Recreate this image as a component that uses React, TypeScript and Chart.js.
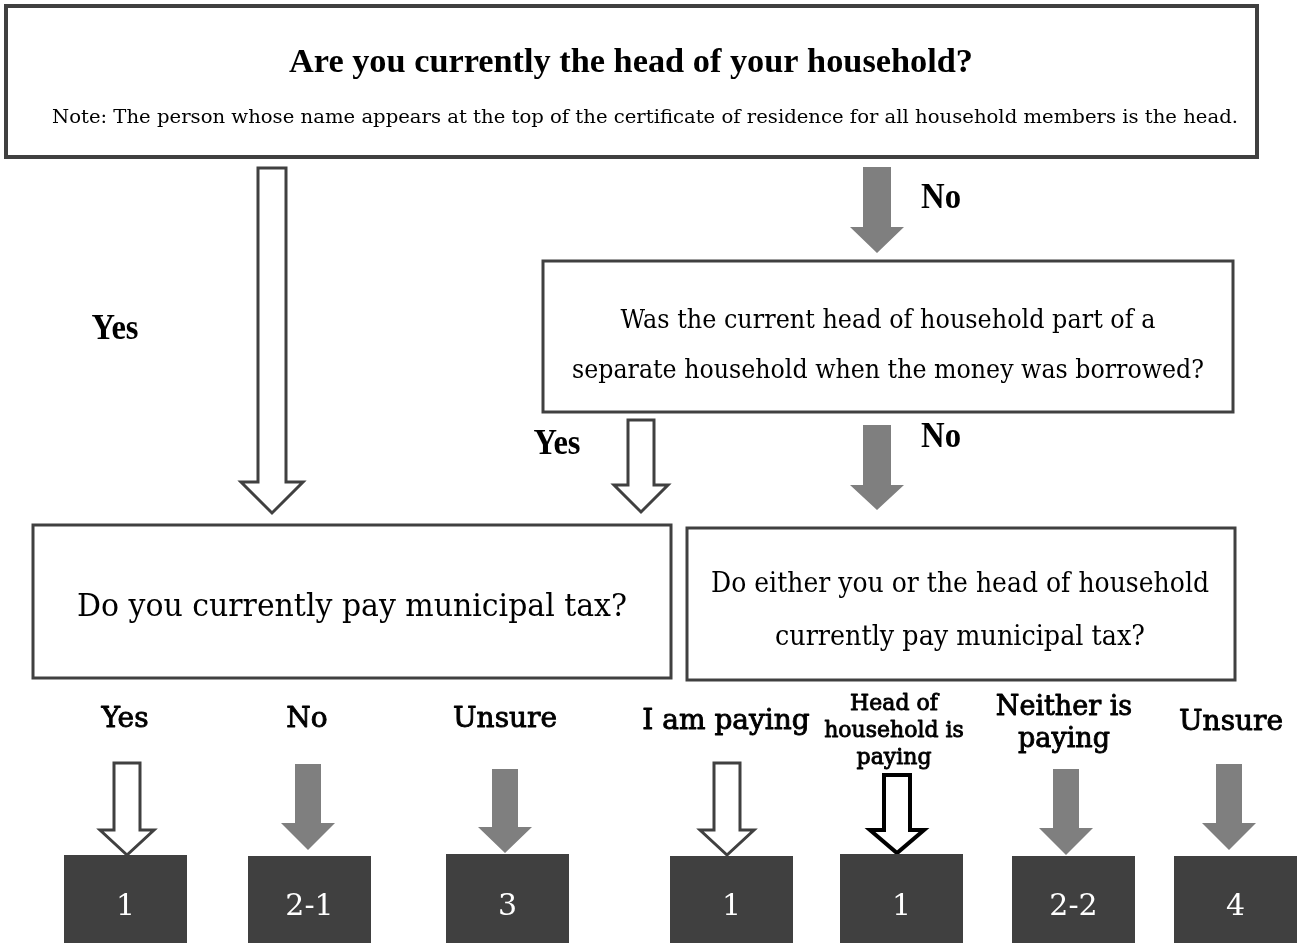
import { useEffect, useRef } from "react";
import { Chart, registerables } from "chart.js";

Chart.register(...registerables);

// ---------- content ----------
const TITLE = "Are you currently the head of your household?";
const NOTE =
  "Note: The person whose name appears at the top of the certificate of residence for all household members is the head.";
const QUESTIONS = [
  ["Was the current head of household part of a", "separate household when the money was borrowed?"],
  ["Do you currently pay municipal tax?"],
  ["Do either you or the head of household", "currently pay municipal tax?"],
];
const BRANCH_LABELS = ["Yes", "No", "Yes", "No"];
const ANSWERS = [["Yes"], ["No"], ["Unsure"], ["I am paying"], ["Head of", "household is", "paying"], ["Neither is", "paying"], ["Unsure"]];
const RESULTS = ["1", "2-1", "3", "1", "1", "2-2", "4"];
const ANSWER_ARROW_KIND = ["hollow", "filled", "filled", "hollow", "hollowDark", "filled", "filled"];

// ---------- layout (diagram units, 0..1301 x 0..943) ----------
const TOP_BOX = [6, 6, 1257, 157];
const Q_BOXES = [
  [543, 261, 1233, 412],
  [33, 525, 671, 678],
  [687, 528, 1235, 680],
];
const Q_TEXT_CX = [888, 352, 960];
const Q_TEXT_Y = [[321, 371], [608], [585, 638]];
const Q_TEXT_W = [[535, 632], [550], [498, 370]];
const Q_FONT = [26, 31, 27];

const BRANCH_X = [115, 941, 557, 941];
const BRANCH_Y = [330, 199, 445, 438];
const BRANCH_W = [47, 40, 47, 40];
const BRANCH_ARROWS = [
  { cx: 272, top: 168, head: 482, tip: 513, sw: 14, hw: 31, kind: "hollow" },
  { cx: 877, top: 167, head: 227, tip: 253, sw: 14, hw: 27, kind: "filled" },
  { cx: 641, top: 420, head: 485, tip: 512, sw: 13, hw: 27, kind: "hollow" },
  { cx: 877, top: 425, head: 485, tip: 510, sw: 14, hw: 27, kind: "filled" },
];

const ANSWER_X = [125, 307, 505, 726, 894, 1064, 1231];
const ANSWER_Y = [[720], [720], [720], [722], [704, 731, 758], [708, 740], [723]];
const ANSWER_FONT = [28, 28, 28, 28, 22, 27, 28];

const ANS_ARROW_X = [127, 308, 505, 727, 897, 1066, 1229];
const ANS_ARROW_TOP = [763, 764, 769, 763, 775, 769, 764];
const ANS_ARROW_HEAD = [830, 823, 827, 830, 830, 828, 823];
const ANS_ARROW_TIP = [855, 850, 853, 855, 853, 855, 850];

const RES_X0 = [64, 248, 446, 670, 840, 1012, 1174];
const RES_X1 = [187, 371, 569, 793, 963, 1135, 1297];
const RES_Y0 = [855, 856, 854, 856, 854, 856, 856];
const RES_Y1 = 943;

const SERIF = "'DejaVu Serif', serif";
const SERIF_B = "'Liberation Serif', serif";
const DARK = "#404040";
const GRAY = "#7f7f7f";

const flowPlugin = {
  id: "flowchart",
  afterDraw(chart: any) {
    const ctx: CanvasRenderingContext2D = chart.ctx;
    const xs = chart.scales.x;
    const ys = chart.scales.y;
    const px = (v: number) => xs.getPixelForValue(v);
    const py = (v: number) => ys.getPixelForValue(v);

    const text = (
      t: string,
      cx: number,
      cy: number,
      font: string,
      color: string,
      targetW?: number,
      embolden = 0
    ) => {
      ctx.save();
      ctx.font = font;
      ctx.fillStyle = color;
      ctx.textAlign = "center";
      ctx.textBaseline = "middle";
      const w = ctx.measureText(t).width;
      const sx = targetW ? targetW / w : 1;
      ctx.translate(px(cx), py(cy));
      ctx.scale(sx, 1);
      ctx.fillText(t, 0, 0);
      if (embolden > 0) {
        ctx.strokeStyle = color;
        ctx.lineWidth = embolden;
        ctx.lineJoin = "round";
        ctx.strokeText(t, 0, 0);
      }
      ctx.restore();
    };

    const box = (b: number[], lw: number) => {
      ctx.save();
      ctx.fillStyle = "#ffffff";
      ctx.strokeStyle = DARK;
      ctx.lineWidth = lw;
      const x = px(b[0]), y = py(b[1]);
      const w = px(b[2]) - x, h = py(b[3]) - y;
      ctx.fillRect(x, y, w, h);
      ctx.strokeRect(x, y, w, h);
      ctx.restore();
    };

    const arrow = (cx: number, top: number, head: number, tip: number, sw: number, hw: number, kind: string) => {
      ctx.save();
      ctx.beginPath();
      ctx.moveTo(px(cx - sw), py(top));
      ctx.lineTo(px(cx + sw), py(top));
      ctx.lineTo(px(cx + sw), py(head));
      ctx.lineTo(px(cx + hw), py(head));
      ctx.lineTo(px(cx), py(tip));
      ctx.lineTo(px(cx - hw), py(head));
      ctx.lineTo(px(cx - sw), py(head));
      ctx.closePath();
      if (kind === "filled") {
        ctx.fillStyle = GRAY;
        ctx.fill();
      } else {
        ctx.fillStyle = "#ffffff";
        ctx.fill();
        ctx.lineJoin = "miter";
        ctx.strokeStyle = kind === "hollowDark" ? "#000000" : DARK;
        ctx.lineWidth = kind === "hollowDark" ? 4 : 3;
        ctx.stroke();
      }
      ctx.restore();
    };

    // top question
    box(TOP_BOX, 4);
    text(TITLE, 631, 63, `bold 33px ${SERIF_B}`, "#000", 684);
    text(NOTE, 645, 118, `18px ${SERIF}`, "#000", 1186);

    // branch arrows + labels
    BRANCH_ARROWS.forEach((a) => arrow(a.cx, a.top, a.head, a.tip, a.sw, a.hw, a.kind));
    BRANCH_LABELS.forEach((t, i) =>
      text(t, BRANCH_X[i], BRANCH_Y[i], `bold 36px ${SERIF_B}`, "#000", BRANCH_W[i])
    );

    // question boxes
    Q_BOXES.forEach((b, i) => {
      box(b, 3);
      QUESTIONS[i].forEach((line, j) =>
        text(line, Q_TEXT_CX[i], Q_TEXT_Y[i][j], `${Q_FONT[i]}px ${SERIF}`, "#000", Q_TEXT_W[i][j])
      );
    });

    // answers
    ANSWERS.forEach((lines, i) => {
      lines.forEach((line, j) =>
        text(line, ANSWER_X[i], ANSWER_Y[i][j], `${ANSWER_FONT[i]}px ${SERIF}`, "#000", undefined, 0.9)
      );
      arrow(ANS_ARROW_X[i], ANS_ARROW_TOP[i], ANS_ARROW_HEAD[i], ANS_ARROW_TIP[i], 13, 27, ANSWER_ARROW_KIND[i]);
    });

    // results
    RESULTS.forEach((r, i) => {
      ctx.save();
      ctx.fillStyle = DARK;
      const x = px(RES_X0[i]), y = py(RES_Y0[i]);
      ctx.fillRect(x, y, px(RES_X1[i]) - x, py(RES_Y1) - y);
      ctx.restore();
      text(r, (RES_X0[i] + RES_X1[i]) / 2, 907, `30px ${SERIF}`, "#ffffff");
    });
  },
};

export default function App() {
  const ref = useRef<HTMLCanvasElement | null>(null);
  useEffect(() => {
    document.body.style.margin = "0";
    document.body.style.background = "#ffffff";
    if (!ref.current) return;
    const chart = new Chart(ref.current, {
      type: "scatter",
      data: {
        datasets: [
          {
            label: "results",
            data: RESULTS.map((_, i) => ({ x: (RES_X0[i] + RES_X1[i]) / 2, y: (RES_Y0[i] + RES_Y1) / 2 })),
            pointRadius: 0,
            showLine: false,
          },
        ],
      },
      options: {
        animation: false,
        responsive: true,
        maintainAspectRatio: false,
        layout: { padding: 0 },
        plugins: { legend: { display: false }, tooltip: { enabled: false }, title: { display: false } },
        scales: {
          x: { type: "linear", min: 0, max: 1301, display: false },
          y: { type: "linear", min: 0, max: 943, reverse: true, display: false },
        },
        events: [],
      },
      plugins: [flowPlugin],
    });
    return () => chart.destroy();
  }, []);
  return (
    <div style={{ position: "relative", width: "1301px", height: "943px", background: "#fff" }}>
      <canvas ref={ref} style={{ display: "block" }} />
    </div>
  );
}
